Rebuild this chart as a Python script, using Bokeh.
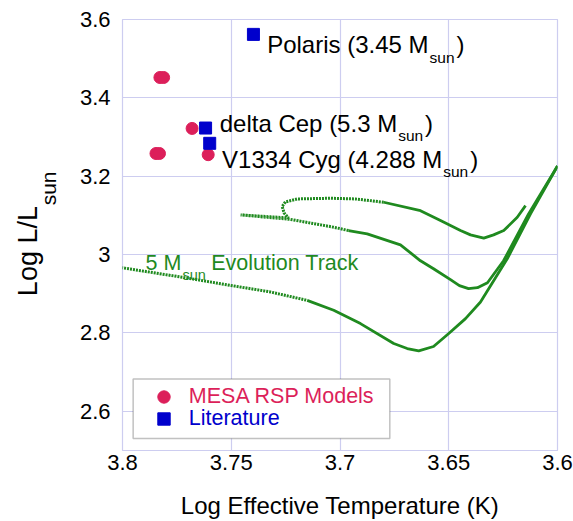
import math
from bokeh.plotting import figure
from bokeh.layouts import row
from bokeh.models import Range1d, FixedTicker, Label, BoxAnnotation, Legend, LegendItem
from bokeh.embed import file_html
from bokeh.resources import INLINE

# ---------------- data ----------------
x_tick_vals = [3.8, 3.75, 3.7, 3.65, 3.6]
x_tick_labels = ["3.8", "3.75", "3.7", "3.65", "3.6"]
y_tick_vals = [2.6, 2.8, 3.0, 3.2, 3.4, 3.6]
y_tick_labels = ["2.6", "2.8", "3", "3.2", "3.4", "3.6"]

# MESA RSP models (log Teff, log L/Lsun)
mesa_teff = [3.7828, 3.7811, 3.7680, 3.7846, 3.7830, 3.7606]
mesa_lum = [3.452, 3.452, 3.322, 3.258, 3.258, 3.255]

# Literature values
lit_names = ["Polaris", "delta Cep", "V1334 Cyg"]
lit_mass = ["3.45", "5.3", "4.288"]
lit_teff = [3.7398, 3.7618, 3.7599]
lit_lum = [3.562, 3.323, 3.284]

# 5 Msun evolution track, by phase
hg_teff = [3.802, 3.7703, 3.7503, 3.7320, 3.7151]
hg_lum = [2.968, 2.9402, 2.9214, 2.9046, 2.8832]
rgb_teff = [3.7151, 3.7029, 3.6906, 3.6753, 3.6691, 3.6638, 3.6570, 3.6500, 3.6423, 3.6354, 3.6231, 3.6124, 3.6000]
rgb_lum = [2.8832, 2.8578, 2.8239, 2.7730, 2.7603, 2.7545, 2.7654, 2.7985, 2.8366, 2.8791, 2.9893, 3.1038, 3.2260]
descent_teff = [3.6000, 3.6133, 3.6248, 3.6322, 3.6368, 3.6409, 3.6451, 3.6492, 3.6570, 3.6630, 3.6722, 3.6875, 3.6961]
descent_lum = [3.2260, 3.1038, 2.9842, 2.9282, 2.9155, 2.9130, 2.9206, 2.9359, 2.9639, 2.9842, 3.0249, 3.0529, 3.0613]
loop_teff = [3.6961, 3.7030, 3.7228, 3.7457, 3.7237, 3.7257, 3.7266, 3.7251, 3.7197, 3.7044, 3.6929, 3.6799]
loop_lum = [3.0613, 3.0700, 3.0898, 3.1013, 3.0936, 3.1064, 3.1229, 3.1344, 3.1420, 3.1438, 3.1420, 3.1336]
return_teff = [3.6799, 3.6630, 3.6538, 3.6446, 3.6400, 3.6339, 3.6294, 3.6247, 3.6185, 3.6147]
return_lum = [3.1336, 3.1122, 3.0868, 3.0613, 3.0504, 3.0420, 3.0504, 3.0613, 3.0954, 3.1249]

# annotation anchors (text baselines)
lit_text_x = [3.7335, 3.7553, 3.7542]
lit_text_y = [3.5364, 3.3354, 3.2438]
track_text_x = 3.7894
track_text_y = 2.9791

# ---------------- styles ----------------
RED = "#dc1f5a"
BLUE = "#0000cc"
GREEN = "#1f8a1f"
GRID = "#cdcdf0"
FONT = "Liberation Sans"

AW = {' ': 278, '(': 333, ')': 333, '.': 278, '/': 278, '0': 556, '1': 556, '2': 556, '3': 556,
      '4': 556, '5': 556, '6': 556, '7': 556, '8': 556, '9': 556, 'A': 667, 'C': 722, 'E': 667,
      'K': 667, 'L': 556, 'M': 833, 'P': 667, 'R': 722, 'S': 667, 'T': 611, 'V': 667, 'a': 556,
      'c': 500, 'd': 556, 'e': 556, 'f': 278, 'g': 556, 'i': 222, 'k': 500, 'l': 222, 'm': 833,
      'n': 556, 'o': 556, 'p': 556, 'r': 333, 's': 500, 't': 278, 'u': 556, 'v': 500, 'y': 500}


def tw(s, size):
    return sum(AW.get(c, 556) for c in s) * size / 1000.0


YLAB_W = 70
TOTAL_W, TOTAL_H = 573, 521
FR_TOP, FR_BOTTOM = 19, 452

p = figure(width=TOTAL_W - YLAB_W, height=TOTAL_H, x_range=Range1d(3.8, 3.6), y_range=Range1d(2.5, 3.6),
           output_backend="svg", toolbar_location=None,
           min_border_left=122 - YLAB_W, min_border_right=16,
           min_border_top=FR_TOP, min_border_bottom=TOTAL_H - FR_BOTTOM)
p.background_fill_color = "white"
p.border_fill_color = "white"
p.outline_line_color = GRID
p.outline_line_width = 1.2

p.xaxis.ticker = FixedTicker(ticks=x_tick_vals)
p.yaxis.ticker = FixedTicker(ticks=y_tick_vals)
p.xaxis.major_label_overrides = {v: l for v, l in zip(x_tick_vals, x_tick_labels)}
p.yaxis.major_label_overrides = {v: l for v, l in zip(y_tick_vals, y_tick_labels)}
for ax in (p.xaxis, p.yaxis):
    ax.axis_line_color = None
    ax.major_tick_line_color = None
    ax.minor_tick_line_color = None
    ax.major_tick_out = 0
    ax.major_tick_in = 0
    ax.major_label_text_font = FONT
    ax.major_label_text_font_size = "22px"
    ax.major_label_text_color = "black"
p.xaxis.major_label_standoff = 4
p.yaxis.major_label_standoff = 12
p.xaxis.axis_label = "Log Effective Temperature (K)"
p.xaxis.axis_label_text_font = FONT
p.xaxis.axis_label_text_font_size = "24px"
p.xaxis.axis_label_text_font_style = "normal"
p.xaxis.axis_label_text_color = "black"
p.xaxis.axis_label_standoff = 19
p.grid.grid_line_color = GRID
p.grid.grid_line_width = 1.2

# evolution track
p.line(hg_teff, hg_lum, line_color=GREEN, line_width=3, line_dash="2 1")
p.line(rgb_teff, rgb_lum, line_color=GREEN, line_width=2.8, line_join="round")
p.line(descent_teff, descent_lum, line_color=GREEN, line_width=2.8, line_join="round")
p.line(loop_teff, loop_lum, line_color=GREEN, line_width=3, line_dash="2 1")
p.line(return_teff, return_lum, line_color=GREEN, line_width=2.8, line_join="round")

# points
r_mesa = p.scatter(mesa_teff, mesa_lum, marker="circle", size=12, fill_color=RED, line_color=RED)
r_lit = p.scatter(lit_teff, lit_lum, marker="square", size=12, fill_color=BLUE, line_color=BLUE)


def sub_text(x, y, main, sub, tail, color, size, sub_size, drop, gap1, gap2):
    p.add_layout(Label(x=x, y=y, text=main, text_font=FONT, text_font_size=f"{size}px",
                       text_color=color, text_baseline="alphabetic", text_align="left"))
    w = tw(main, size) + gap1
    p.add_layout(Label(x=x, y=y, x_offset=w, y_offset=-drop, text=sub, text_font=FONT,
                       text_font_size=f"{sub_size}px", text_color=color,
                       text_baseline="alphabetic", text_align="left"))
    w2 = w + tw(sub, sub_size) + gap2
    p.add_layout(Label(x=x, y=y, x_offset=w2, text=tail, text_font=FONT,
                       text_font_size=f"{size}px", text_color=color,
                       text_baseline="alphabetic", text_align="left"))


for name, mass, tx, ty in zip(lit_names, lit_mass, lit_text_x, lit_text_y):
    sub_text(tx, ty, f"{name} ({mass} M", "sun", ")", "black", 24, 15.5, 12.8, 1, 2)

sub_text(track_text_x, track_text_y, "5 M", "sun", "Evolution Track", GREEN, 21.5, 14.5, 12.7, 1, 5.5)

# legend box and entries
p.add_layout(BoxAnnotation(left=3.7951, right=3.6771, bottom=2.5304, top=2.6828,
                           fill_color="white", fill_alpha=1, line_color="#333333", line_width=1.5))
for label, rend, color, loc in (("MESA RSP Models", r_mesa, RED, (25.8, 38.2)),
                                 ("Literature", r_lit, BLUE, (25.8, 15.8))):
    leg = Legend(items=[LegendItem(label=label, renderers=[rend])], location=loc,
                 glyph_width=31, glyph_height=31, label_height=31, label_standoff=10,
                 padding=0, margin=0, spacing=0, border_line_color=None,
                 background_fill_alpha=0, label_text_font=FONT, label_text_font_size="21.5px",
                 label_text_color=color)
    p.add_layout(leg)

# y-axis title panel: same frame rows as the main plot, data y = -(page y)
ylab = figure(width=YLAB_W, height=TOTAL_H, x_range=Range1d(0, YLAB_W),
              y_range=Range1d(-FR_BOTTOM, -FR_TOP),
              x_axis_type=None, y_axis_type=None, output_backend="svg", toolbar_location=None,
              min_border_left=0, min_border_right=0,
              min_border_top=FR_TOP, min_border_bottom=TOTAL_H - FR_BOTTOM)
ylab.outline_line_color = None
ylab.background_fill_color = "white"
ylab.border_fill_color = "white"
ylab_main = "Log L/L"
main_size, sub_size = 27, 21
main_start = 296.7                      # page y where the rotated text begins
main_len = tw(ylab_main, main_size)
sub_start = main_start - main_len - 1
sub_len = tw("sun", sub_size)
ylab.add_layout(Label(x=36.7 - 0.35 * main_size, y=-(main_start - main_len / 2),
                      angle=math.pi / 2, text=ylab_main,
                      text_font=FONT, text_font_size=f"{main_size}px", text_color="black",
                      text_align="center", text_baseline="middle"))
ylab.add_layout(Label(x=55.0 - 0.35 * sub_size, y=-(sub_start - sub_len / 2),
                      angle=math.pi / 2, text="sun",
                      text_font=FONT, text_font_size=f"{sub_size}px", text_color="black",
                      text_align="center", text_baseline="middle"))

layout = row(ylab, p)
open("out.html", "w").write(file_html(layout, INLINE))
